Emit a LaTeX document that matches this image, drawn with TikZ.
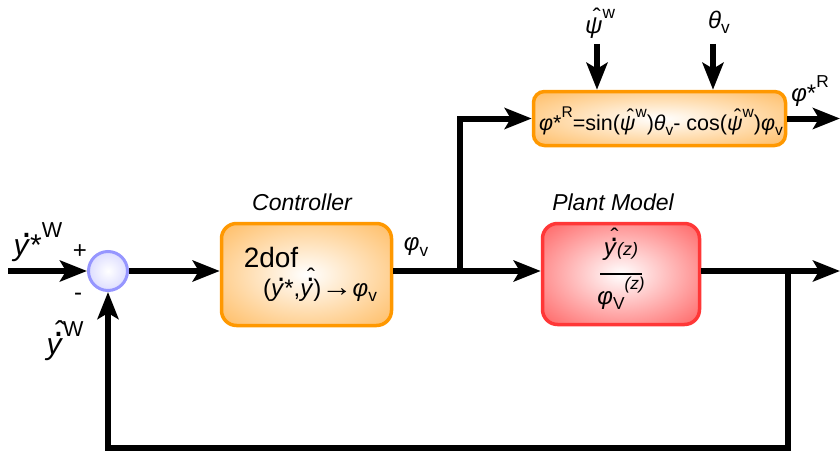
\documentclass[tikz,border=0pt]{standalone}
\usepackage{fontspec}
\setmainfont{Liberation Sans}
\usepackage{graphicx}
\usetikzlibrary{arrows.meta}
\definecolor{oOut}{RGB}{255,165,45}
\definecolor{oLine}{RGB}{255,152,0}
\definecolor{rOut}{RGB}{255,45,45}
\definecolor{rLine}{RGB}{255,55,55}
\definecolor{bOut}{RGB}{200,200,255}
\definecolor{bLine}{RGB}{150,150,255}
\pgfdeclareradialshading{orshade}{\pgfpointorigin}{color(0bp)=(white);color(48bp)=(oOut);color(100bp)=(oOut)}
\pgfdeclareradialshading{rdshade}{\pgfpointorigin}{color(0bp)=(white);color(48bp)=(rOut);color(100bp)=(rOut)}
\pgfdeclareradialshading{blshade}{\pgfpointorigin}{color(0bp)=(white);color(40bp)=(bOut);color(100bp)=(bOut)}
\newcommand{\sps}[1]{\raisebox{0.62em}{\scalebox{0.72}{#1}}}
\newcommand{\sbs}[1]{\raisebox{-0.22em}{\scalebox{0.72}{#1}}}
\newcommand{\ydot}{{\ooalign{\textit{y}\cr\hidewidth\kern0.3em\raisebox{0.6em}{\scalebox{1.3}{.}}\hidewidth\cr}}}
\newcommand{\yhatdot}{{\ooalign{\textit{y}\cr\hidewidth\kern0.3em\raisebox{0.6em}{\scalebox{1.3}{.}}\hidewidth\cr\hidewidth\kern0.35em\raisebox{0.42em}{ˆ}\hidewidth\cr}}}
\newcommand{\psihat}{{\ooalign{\textit{ψ}\cr\hidewidth\kern0.25em\raisebox{0.3em}{ˆ}\hidewidth\cr}}}
\begin{document}
\begin{tikzpicture}[x=1pt,y=-1pt,line width=6pt,
  arr/.style={-{Stealth[length=27pt,width=21pt,inset=6pt]}},
  blk/.style={draw, line width=3.5pt, inner sep=0pt},
  ctrl/.style={blk, draw=oLine, shading=orshade, rounded corners=15pt, minimum width=170pt, minimum height=102pt},
  topblk/.style={blk, draw=oLine, shading=orshade, rounded corners=11pt, minimum width=252pt, minimum height=54pt},
  plant/.style={blk, draw=rLine, shading=rdshade, rounded corners=15pt, minimum width=157pt, minimum height=101pt},
  sumnode/.style={circle, draw=bLine, line width=3pt, shading=blshade, minimum size=39pt, inner sep=0pt},
  lbl/.style={inner sep=0pt, font=\fontsize{24}{26}\selectfont},
  biglbl/.style={inner sep=0pt, font=\fontsize{30}{32}\selectfont},
  title/.style={inner sep=0pt, font=\fontsize{23}{25}\selectfont\itshape},
  sgn/.style={inner sep=0pt, font=\fontsize{24}{26}\selectfont},
  txt/.style={inner sep=0pt, font=\fontsize{24}{26}\selectfont}]
\useasboundingbox (0,0) rectangle (840,452);
% blocks
\node[sumnode] (s) at (108,271) {};
\node[ctrl] (c) at (306.5,274.5) {};
\node[plant] (p) at (621,274) {};
\node[topblk] (t) at (659.5,118.5) {};
% block contents
\node[inner sep=0pt, font=\fontsize{28}{30}\selectfont] (dof) at (271,257) {2dof};
\node[txt] (map) at (320,290) {(\ydot*,\yhatdot)\scalebox{1.3}[1.15]{→}\textit{φ}\sbs{v}};
\node[inner sep=0pt, font=\fontsize{21.5}{23}\selectfont] (eq) at (661,121) {\textit{φ}*\sps{R}=sin(\psihat\sps{w})\textit{θ}\sbs{v}- cos(\psihat\sps{w})\textit{φ}\sbs{v}};
\node[inner sep=0pt, align=center, font=\fontsize{24}{26}\selectfont] (frac) at (621,276)
  {\yhatdot\scalebox{0.75}{\textit{(z)}}\\[-7pt]\rule{42pt}{1.8pt}\\[1pt]\textit{φ}\sbs{V}\sps{\textit{(z)}}};
% titles and labels
\node[title] (ctitle) at (302,202) {Controller};
\node[title] (ptitle) at (613,202) {Plant Model};
\node[biglbl] (yin) at (38,239) {\ydot*\sps{W}};
\node[biglbl] (yfb) at (65,338) {\yhatdot\sps{W}};
\node[sgn] (plus) at (80,252) {+};
\node[sgn] (minus) at (78,297) {-};
\node[lbl] (phiv) at (416,247) {\textit{φ}\sbs{v}};
\node[lbl] (psi) at (600,21) {\psihat\sps{w}};
\node[lbl] (theta) at (719,22) {\textit{θ}\sbs{v}};
\node[lbl] (phiR) at (810,91) {\textit{φ}*\sps{R}};
% coordinates
\coordinate (in) at (8,271);
\coordinate (b1) at (460,271);
\coordinate (b2) at (788,271);
\coordinate (fbr) at (788,448);
\coordinate (out1) at (840,271);
\coordinate (out2) at (840,118.5);
\coordinate (psiS) at (597,44);
\coordinate (thS) at (713,44);
% connectors
\draw[arr] (in) -- (s.west);
\draw[arr] (s.east) -- (c.west |- s);
\draw (c.east |- s) -- (b1);
\draw[arr] (b1) -- (p.west |- s);
\draw[arr] (b1) |- (t.west);
\draw[arr] (t.east) -- (out2);
\draw[arr] (p.east |- s) -- (out1);
\draw[arr] (b2) -- (fbr) -| (s.south);
\draw[arr] (psiS) -- (psiS |- t.north);
\draw[arr] (thS) -- (thS |- t.north);
\end{tikzpicture}
\end{document}
